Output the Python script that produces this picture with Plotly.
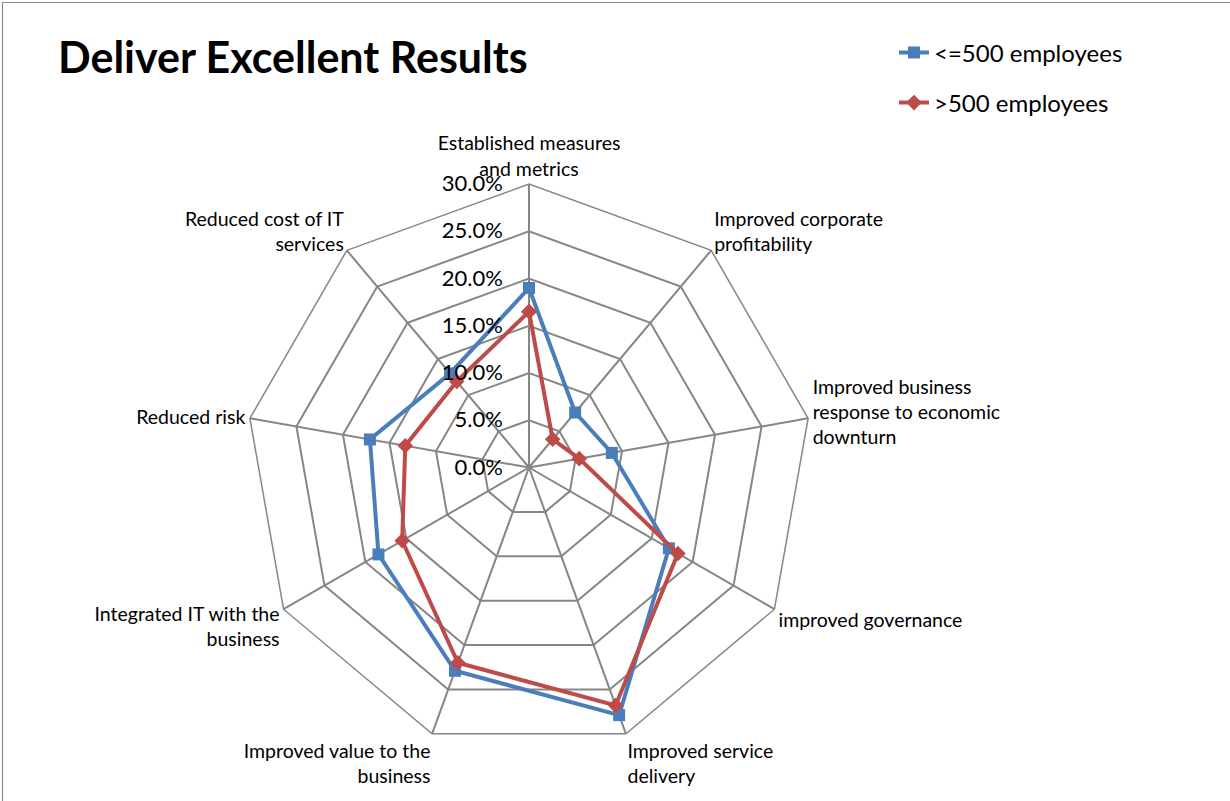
import plotly.graph_objects as go

# ---- data ----
categories = [
    "Established measures and metrics",
    "Improved corporate profitability",
    "Improved business response to economic downturn",
    "improved governance",
    "Improved service delivery",
    "Improved value to the business",
    "Integrated IT with the business",
    "Reduced risk",
    "Reduced cost of IT services",
]
tick_labels = [
    "Established measures<br>and metrics",
    "Improved corporate<br>profitability",
    "Improved business<br>response to economic<br>downturn",
    "improved governance",
    "Improved service<br>delivery",
    "Improved value to the<br>business",
    "Integrated IT with the<br>business",
    "Reduced risk",
    "Reduced cost of IT<br>services",
]
small_firms = [19.0, 7.6, 8.9, 17.1, 27.9, 22.9, 18.4, 17.1, 13.0]   # <=500 employees (%)
large_firms = [16.5, 3.9, 5.4, 18.2, 26.8, 22.0, 15.5, 13.3, 11.9]   # >500 employees (%)
radial_ticks = [0, 5, 10, 15, 20, 25, 30]
radial_tick_labels = ["0.0%", "5.0%", "10.0%", "15.0%", "20.0%", "25.0%", "30.0%"]
series_names = ["<=500 employees", ">500 employees"]

BLUE = "#4A7EBB"
RED = "#BE4B48"
GRID = "#868686"
FONT = "Lato"

W, H = 1230, 801
cx, cy, R = 529, 467.5, 283.4

fig = go.Figure()
fig.add_trace(go.Scatterpolar(
    r=small_firms + small_firms[:1],
    theta=categories + categories[:1],
    mode="lines+markers",
    name=series_names[0],
    line=dict(color=BLUE, width=4),
    marker=dict(symbol="square", size=12, color=BLUE),
    legend="legend",
    showlegend=True,
))
fig.add_trace(go.Scatterpolar(
    r=large_firms + large_firms[:1],
    theta=categories + categories[:1],
    mode="lines+markers",
    name=series_names[1],
    line=dict(color=RED, width=4),
    marker=dict(symbol="diamond", size=12, color=RED),
    legend="legend2",
    showlegend=True,
))

fig.update_layout(
    width=W, height=H,
    margin=dict(l=0, r=0, t=0, b=0),
    paper_bgcolor="white",
    showlegend=True,
    font=dict(family=FONT, color="black"),
    title=dict(
        text="Deliver Excellent Results",
        font=dict(family=FONT, size=43, color="black", weight="bold"),
        x=58 / W, xanchor="left", xref="paper",
        y=1 - 57.5 / H, yanchor="middle", yref="paper",
    ),
    polar=dict(
        domain=dict(x=[(cx - R) / W, (cx + R) / W],
                    y=[(H - cy - R) / H, (H - cy + R) / H]),
        bgcolor="white",
        gridshape="linear",
        radialaxis=dict(
            range=[0, 30],
            tickmode="array",
            tickvals=radial_ticks,
            ticktext=radial_tick_labels,
            angle=90,
            tickangle=90,
            side="counterclockwise",
            showline=False,
            showgrid=True,
            gridcolor=GRID,
            gridwidth=1.5,
            ticks="outside",
            ticklen=18,
            tickcolor="rgba(0,0,0,0)",
            tickfont=dict(family=FONT, size=22, color="black"),
        ),
        angularaxis=dict(
            type="category",
            categoryarray=categories,
            tickmode="array",
            tickvals=categories,
            ticktext=tick_labels,
            direction="clockwise",
            rotation=90,
            showline=True,
            linecolor=GRID,
            linewidth=1.5,
            gridcolor=GRID,
            gridwidth=1.5,
            ticks="",
            tickfont=dict(family=FONT, size=19.5, color="black"),
        ),
    ),
    legend=dict(
        x=894 / W, xanchor="left", y=1 - 53 / H, yanchor="middle",
        font=dict(family=FONT, size=24, color="black"),
        bgcolor="rgba(0,0,0,0)", borderwidth=0,
    ),
    legend2=dict(
        x=894 / W, xanchor="left", y=1 - 103 / H, yanchor="middle",
        font=dict(family=FONT, size=24, color="black"),
        bgcolor="rgba(0,0,0,0)", borderwidth=0,
    ),
    shapes=[dict(
        type="rect", xref="paper", yref="paper",
        x0=2.5 / W, x1=1.05, y0=-0.05, y1=1 - 2.5 / H,
        line=dict(color="#8c8c8c", width=1.2), fillcolor="rgba(0,0,0,0)",
    )],
)

fig.write_html(
    "out.html",
    config={"displayModeBar": False},
    post_script="document.body.style.margin='0px';document.body.style.padding='0px';",
)
